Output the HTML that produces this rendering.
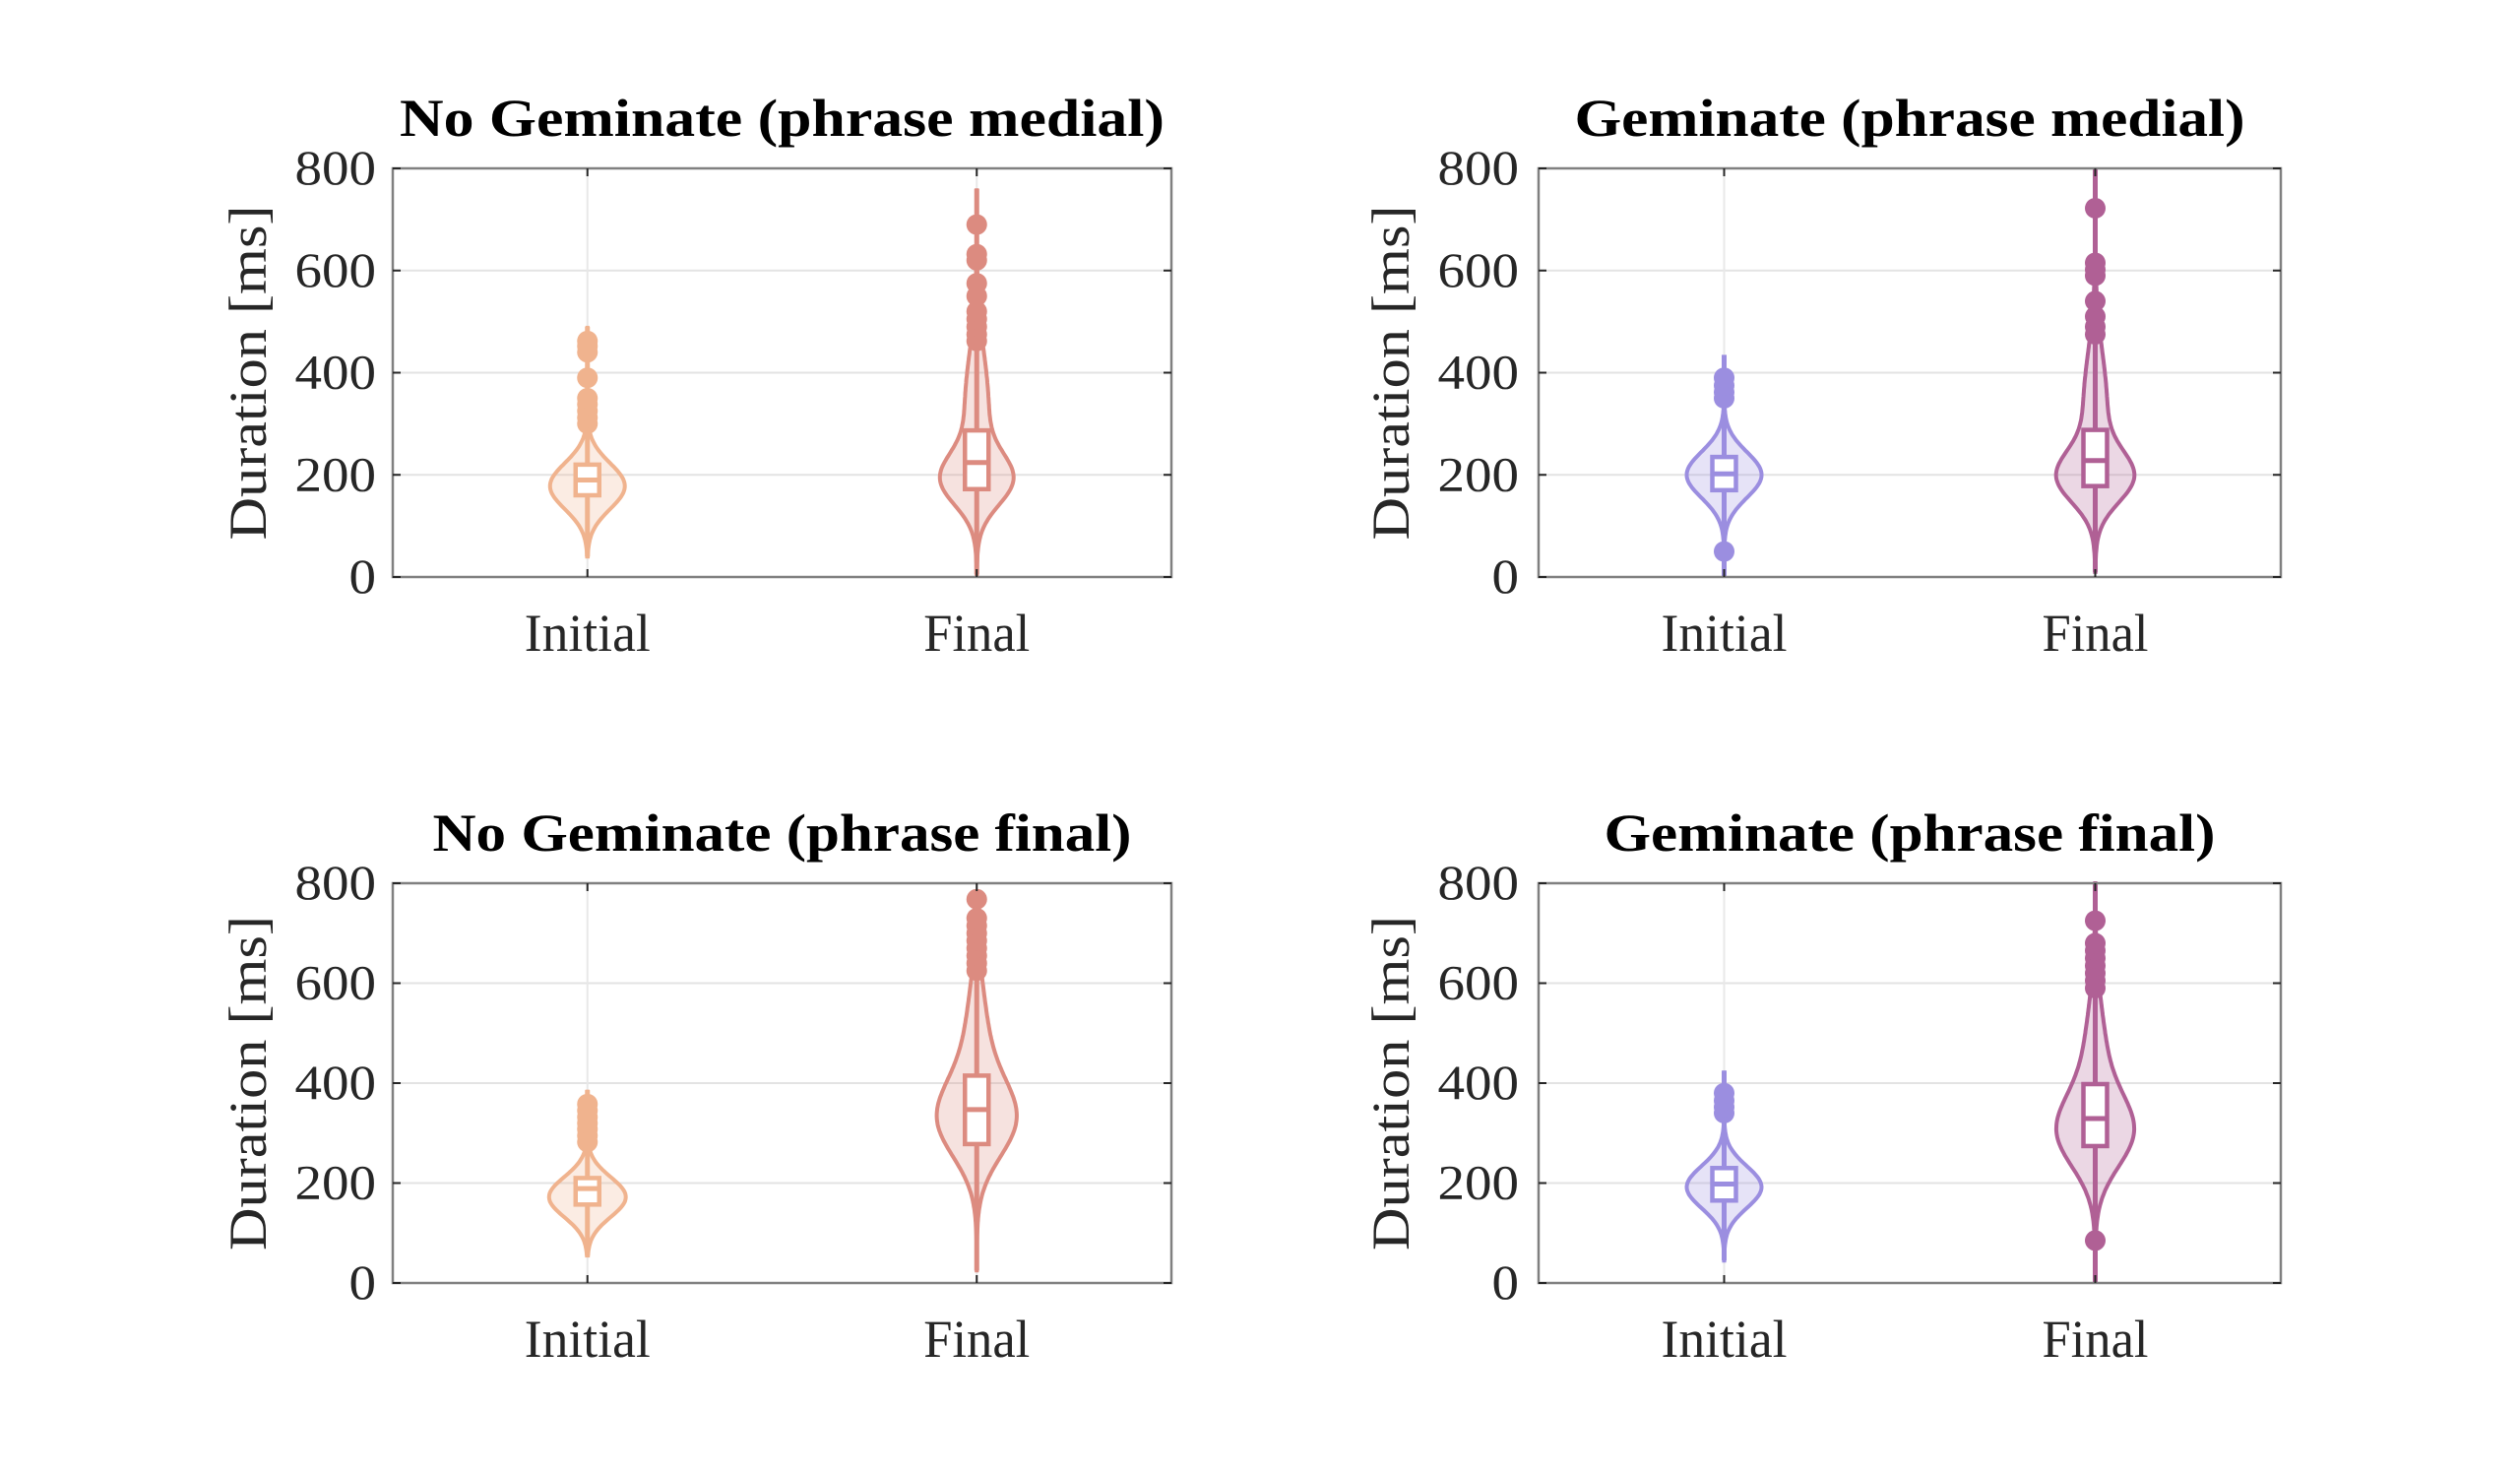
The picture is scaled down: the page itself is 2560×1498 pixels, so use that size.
<!DOCTYPE html>
<html><head><meta charset="utf-8">
<style>
html,body{margin:0;padding:0;background:#fff;}
svg{display:block;}
text{font-family:"Liberation Serif",serif;fill:#262626;}
.t{font-weight:bold;fill:#000;font-size:54px;text-anchor:middle;}
.tk{font-size:50px;text-anchor:end;}
.xl{font-size:54px;text-anchor:middle;}
.yl{font-size:54px;text-anchor:middle;}
</style></head>
<body>
<svg id="s" width="2560" height="1498" viewBox="0 0 2560 1498" xmlns="http://www.w3.org/2000/svg"></svg>
<script>
const S=document.getElementById('s');let h='';
const panels=[
 {L:399,R:1190,T:171,B:586,title:'No Geminate (phrase medial)',tw:777,ylx:253,tkx:382,
  v:[{c:'#f0b38e',comp:[[178,45,38]],lo:40,hi:490,q1:160,q3:220,med:190,out:[300,312,325,338,350,390,440,452,462]},
     {c:'#dc8b80',comp:[[190,50,32],[330,110,12]],lo:5,hi:760,q1:172,q3:287,med:224,out:[462,475,490,505,520,550,575,620,632,690]}]},
 {L:1563,R:2317,T:171,B:586,title:'Geminate (phrase medial)',tw:681,ylx:1414,tkx:1543,
  v:[{c:'#9b8ee0',comp:[[200,45,38]],lo:0,hi:435,q1:170,q3:235,med:202,out:[50,350,362,375,390]},
     {c:'#b06095',comp:[[195,50,34],[330,110,12]],lo:10,hi:800,q1:178,q3:288,med:228,out:[475,490,510,540,590,602,615,722]}]},
 {L:399,R:1190,T:897,B:1303,title:'No Geminate (phrase final)',tw:710,ylx:253,tkx:382,
  v:[{c:'#f0b38e',comp:[[172,40,39]],lo:55,hi:386,q1:157,q3:210,med:189,out:[282,295,308,320,332,345,358]},
     {c:'#dc8b80',comp:[[325,75,34],[460,120,12]],lo:25,hi:780,q1:278,q3:415,med:347,out:[625,640,655,670,685,700,715,730,768]}]},
 {L:1563,R:2317,T:897,B:1303,title:'Geminate (phrase final)',tw:621,ylx:1414,tkx:1543,
  v:[{c:'#9b8ee0',comp:[[192,42,38]],lo:45,hi:425,q1:165,q3:230,med:198,out:[340,352,365,380]},
     {c:'#b06095',comp:[[300,70,32],[420,120,12]],lo:0,hi:800,q1:274,q3:398,med:329,out:[85,590,605,620,635,650,665,680,725]}]}
];
panels.forEach(p=>{
 const W=p.R-p.L,H=p.B-p.T;
 const Y=v=>p.B-v/800*H;
 const xs=[p.L+W/4,p.L+3*W/4];
 [200,400,600].forEach(v=>{h+=`<line x1="${p.L}" x2="${p.R}" y1="${Y(v)}" y2="${Y(v)}" stroke="#e3e3e3" stroke-width="2"/>`;});
 xs.forEach(x=>{h+=`<line x1="${x}" x2="${x}" y1="${p.T}" y2="${p.B}" stroke="#e8e8e8" stroke-width="2"/>`;});
 p.v.forEach((d,i)=>{
  const x=xs[i];const hw=v=>{let s=0;d.comp.forEach(c=>{s+=c[2]*Math.exp(-0.5*((v-c[0])/c[1])**2)});return s;};
  let l=[],r=[];
  for(let v=d.lo;v<=d.hi;v+=4){const w=hw(v);l.push([x-w,Y(v)]);r.push([x+w,Y(v)]);}
  let path='M'+l.map(a=>a[0].toFixed(1)+','+a[1].toFixed(1)).join(' L')+' L'+r.reverse().map(a=>a[0].toFixed(1)+','+a[1].toFixed(1)).join(' L')+'Z';
  h+=`<path d="${path}" fill="${d.c}" fill-opacity="0.25" stroke="${d.c}" stroke-width="4"/>`;
  h+=`<line x1="${x}" x2="${x}" y1="${Y(d.lo)}" y2="${Y(d.hi)}" stroke="${d.c}" stroke-width="5"/>`;
  d.out.forEach(o=>{h+=`<circle cx="${x}" cy="${Y(o)}" r="10.5" fill="${d.c}"/>`;});
  h+=`<rect x="${x-12}" y="${Y(d.q3)}" width="24" height="${Y(d.q1)-Y(d.q3)}" fill="#fff" stroke="${d.c}" stroke-width="4.5"/>`;
  h+=`<line x1="${x-12}" x2="${x+12}" y1="${Y(d.med)}" y2="${Y(d.med)}" stroke="${d.c}" stroke-width="5"/>`;
 });
 h+=`<rect x="${p.L}" y="${p.T}" width="${W}" height="${H}" fill="none" stroke="#808080" stroke-width="2.5"/>`;
 [0,200,400,600,800].forEach(v=>{const y=Y(v);
  h+=`<line x1="${p.L}" x2="${p.L+8}" y1="${y}" y2="${y}" stroke="#262626" stroke-width="2"/>`;
  h+=`<line x1="${p.R-8}" x2="${p.R}" y1="${y}" y2="${y}" stroke="#262626" stroke-width="2"/>`;
  const s=String(v);h+=`<text class="tk" x="${p.tkx}" y="${y+16}" textLength="${s.length*27.5}" lengthAdjust="spacingAndGlyphs">${s}</text>`;
 });
 xs.forEach(x=>{h+=`<line x1="${x}" x2="${x}" y1="${p.B-8}" y2="${p.B}" stroke="#262626" stroke-width="2"/><line x1="${x}" x2="${x}" y1="${p.T}" y2="${p.T+8}" stroke="#262626" stroke-width="2"/>`;});
 h+=`<text class="xl" x="${xs[0]}" y="${p.B+75}" textLength="128" lengthAdjust="spacingAndGlyphs">Initial</text>`;
 h+=`<text class="xl" x="${xs[1]}" y="${p.B+75}" textLength="108" lengthAdjust="spacingAndGlyphs">Final</text>`;
 h+=`<text class="t" x="${(p.L+p.R)/2}" y="${p.T-33}" textLength="${p.tw}" lengthAdjust="spacingAndGlyphs">${p.title}</text>`;
 const cy=(p.T+p.B)/2;
 h+=`<text class="yl" transform="translate(${p.ylx+17},${cy}) rotate(-90)" x="0" y="0" textLength="340" lengthAdjust="spacingAndGlyphs">Duration [ms]</text>`;
});
S.innerHTML=h;
</script>
</body></html>
